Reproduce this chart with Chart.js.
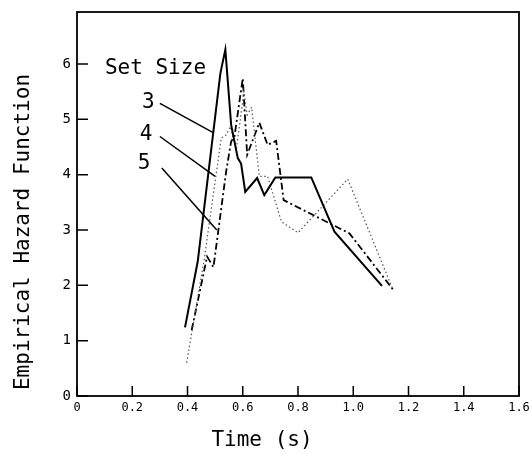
<!DOCTYPE html>
<html>
<head>
<meta charset="utf-8">
<script src="https://cdn.jsdelivr.net/npm/chart.js@4/dist/chart.umd.min.js"></script>
<style>
html,body{margin:0;padding:0;background:#fff;}
#wrap{width:529px;height:454px;}
</style>
</head>
<body>
<div id="wrap"><canvas id="c" width="529" height="454"></canvas></div>
<script>
// ---- data ----
const timeSet3   = [0.391, 0.437, 0.519, 0.537, 0.558, 0.582, 0.594, 0.609, 0.652, 0.678, 0.718, 0.848, 0.932, 1.104];
const hazardSet3 = [1.24, 2.43, 5.83, 6.26, 4.90, 4.30, 4.20, 3.69, 3.94, 3.63, 3.95, 3.95, 2.97, 1.99];

const timeSet4   = [0.397, 0.460, 0.522, 0.540, 0.555, 0.576, 0.590, 0.604, 0.616, 0.632, 0.660, 0.690, 0.740, 0.800, 0.980, 1.143];
const hazardSet4 = [0.60, 2.45, 4.66, 4.72, 4.87, 4.45, 4.95, 5.50, 5.08, 5.22, 3.97, 3.97, 3.15, 2.95, 3.92, 1.93];

const timeSet5   = [0.415, 0.471, 0.494, 0.540, 0.558, 0.570, 0.600, 0.616, 0.660, 0.690, 0.721, 0.748, 0.986, 1.143];
const hazardSet5 = [1.19, 2.52, 2.33, 4.06, 4.60, 4.69, 5.74, 4.36, 4.94, 4.54, 4.61, 3.54, 2.94, 1.93];

const setSizes = ['3', '4', '5'];
const legendTitle = 'Set Size';
// label anchor and leader-line endpoints, in data units
const labelPos   = [[0.258, 5.31], [0.250, 4.72], [0.243, 4.20]];
const leaderFrom = [[0.300, 5.29], [0.300, 4.69], [0.307, 4.12]];
const leaderTo   = [[0.493, 4.76], [0.500, 3.97], [0.506, 3.00]];
const legendTitlePos = [0.101, 5.91];

const xTitle = 'Time (s)';
const yTitle = 'Empirical Hazard Function';
const xMin = 0, xMax = 1.6, xStep = 0.2;
const yMin = 0, yMax = 6.94, yStep = 1;

const toPts = (xs, ys) => xs.map((x, i) => ({x: x, y: ys[i]}));

const MONO = '"DejaVu Sans Mono", "Liberation Mono", monospace';

const decor = {
  id: 'decor',
  afterDatasetsDraw(chart) {
    const ctx = chart.ctx, a = chart.chartArea;
    const xs = chart.scales.x, ys = chart.scales.y;
    ctx.save();
    // frame
    ctx.strokeStyle = '#000';
    ctx.lineWidth = 1.8;
    ctx.strokeRect(a.left, a.top, a.right - a.left, a.bottom - a.top);
    // inward tick marks
    ctx.lineWidth = 1.5;
    ctx.beginPath();
    xs.ticks.forEach(t => {
      const px = xs.getPixelForValue(t.value);
      ctx.moveTo(px, a.bottom); ctx.lineTo(px, a.bottom - 10);
    });
    ys.ticks.forEach(t => {
      const py = ys.getPixelForValue(t.value);
      ctx.moveTo(a.left, py); ctx.lineTo(a.left + 11, py);
    });
    ctx.stroke();
    // legend annotation
    ctx.fillStyle = '#000';
    ctx.font = '21px ' + MONO;
    ctx.textBaseline = 'middle';
    ctx.textAlign = 'left';
    ctx.fillText(legendTitle, xs.getPixelForValue(legendTitlePos[0]), ys.getPixelForValue(legendTitlePos[1]));
    ctx.textAlign = 'center';
    ctx.lineWidth = 1.5;
    setSizes.forEach((s, i) => {
      ctx.fillText(s, xs.getPixelForValue(labelPos[i][0]), ys.getPixelForValue(labelPos[i][1]));
      ctx.beginPath();
      ctx.moveTo(xs.getPixelForValue(leaderFrom[i][0]), ys.getPixelForValue(leaderFrom[i][1]));
      ctx.lineTo(xs.getPixelForValue(leaderTo[i][0]), ys.getPixelForValue(leaderTo[i][1]));
      ctx.stroke();
    });
    // axis titles
    ctx.font = '21px ' + MONO;
    ctx.textAlign = 'center';
    ctx.textBaseline = 'middle';
    ctx.fillText(xTitle, 262, 441);
    ctx.translate(24, 232);
    ctx.rotate(-Math.PI / 2);
    ctx.fillText(yTitle, 0, 0);
    ctx.restore();
  }
};

new Chart(document.getElementById('c'), {
  type: 'line',
  data: {
    datasets: [
      { label: '3', data: toPts(timeSet3, hazardSet3), borderColor: '#000', borderWidth: 2, pointRadius: 0, tension: 0 },
      { label: '4', data: toPts(timeSet4, hazardSet4), borderColor: '#555', borderWidth: 1.2, borderDash: [1.5, 2.5], pointRadius: 0, tension: 0 },
      { label: '5', data: toPts(timeSet5, hazardSet5), borderColor: '#000', borderWidth: 1.8, borderDash: [7, 3, 2, 3], pointRadius: 0, tension: 0 }
    ]
  },
  options: {
    responsive: false,
    animation: false,
    layout: { padding: { left: 0, right: 10, top: 12, bottom: 0 } },
    plugins: { legend: { display: false }, tooltip: { enabled: false }, title: { display: false } },
    scales: {
      x: {
        type: 'linear', min: xMin, max: xMax,
        grid: { display: false, drawTicks: false }, border: { display: false },
        ticks: { stepSize: xStep, color: '#000', padding: 5, maxRotation: 0, font: { family: MONO, size: 12 } },
        afterFit(s) { s.height = 58; s.paddingLeft = 0; s.paddingRight = 0; }
      },
      y: {
        type: 'linear', min: yMin, max: yMax,
        grid: { display: false, drawTicks: false }, border: { display: false },
        ticks: { stepSize: yStep, color: '#000', padding: 6, font: { family: MONO, size: 14 } },
        afterBuildTicks(s) { s.ticks = s.ticks.filter(t => Number.isInteger(t.value)); },
        afterFit(s) { s.width = 77; s.paddingTop = 0; s.paddingBottom = 0; }
      }
    }
  },
  plugins: [decor]
});
</script>
</body>
</html>
